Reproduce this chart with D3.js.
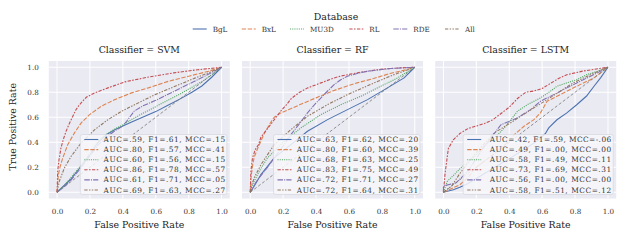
<!DOCTYPE html>
<html><head><meta charset="utf-8">
<script src="https://cdn.jsdelivr.net/npm/d3@7"></script>
<style>body{margin:0;background:#fff}svg{display:block}</style>
</head><body>
<svg id="c" width="627" height="241"></svg>
<script>
// ---------- data ----------
const databases = ["BgL", "BxL", "MU3D", "RL", "RDE", "All"];
const classifiers = ["SVM", "RF", "LSTM"];
const xTicks = [0, 0.2, 0.4, 0.6, 0.8, 1.0];
const yTicks = [0, 0.2, 0.4, 0.6, 0.8, 1.0];

// ROC curves: [fpr, tpr]
const svm_BgL = [[0,0],[0.04,0.05],[0.08,0.1],[0.13,0.18],[0.2,0.3],[0.25,0.4],[0.3,0.46],[0.35,0.5],[0.4,0.53],[0.45,0.56],[0.52,0.6],[0.6,0.645],[0.68,0.7],[0.76,0.755],[0.82,0.8],[0.88,0.85],[0.94,0.92],[1,1]];
const svm_BxL = [[0,0],[0.008,0.141],[0.02,0.21],[0.035,0.275],[0.065,0.381],[0.106,0.475],[0.147,0.555],[0.198,0.621],[0.269,0.688],[0.351,0.741],[0.453,0.795],[0.555,0.835],[0.678,0.888],[0.80,0.928],[0.92,0.968],[1,1]];
const svm_MU3D = [[0,0],[0.04,0.05],[0.08,0.11],[0.13,0.19],[0.2,0.31],[0.25,0.41],[0.3,0.465],[0.35,0.505],[0.4,0.54],[0.45,0.58],[0.52,0.63],[0.6,0.685],[0.68,0.74],[0.76,0.795],[0.82,0.84],[0.88,0.885],[0.94,0.94],[1,1]];
const svm_RL = [[0,0],[0.004,0.168],[0.012,0.26],[0.024,0.355],[0.04,0.43],[0.055,0.488],[0.075,0.55],[0.096,0.608],[0.115,0.66],[0.137,0.701],[0.16,0.735],[0.178,0.76],[0.229,0.795],[0.31,0.835],[0.412,0.883],[0.55,0.92],[0.71,0.955],[0.855,0.98],[1,1]];
const svm_RDE = [[0,0],[0.04,0.04],[0.08,0.09],[0.13,0.17],[0.2,0.29],[0.25,0.38],[0.3,0.44],[0.35,0.49],[0.4,0.53],[0.43,0.58],[0.47,0.65],[0.52,0.69],[0.6,0.735],[0.7,0.8],[0.8,0.865],[0.9,0.93],[0.95,0.965],[1,1]];
const svm_All = [[0,0],[0.014,0.088],[0.045,0.195],[0.086,0.288],[0.147,0.395],[0.229,0.501],[0.31,0.581],[0.392,0.648],[0.494,0.715],[0.596,0.781],[0.718,0.848],[0.841,0.915],[0.943,0.968],[1,1]];

const rf_BgL = [[0,0],[0.02,0.04],[0.065,0.141],[0.146,0.275],[0.247,0.381],[0.348,0.488],[0.47,0.581],[0.591,0.661],[0.713,0.741],[0.834,0.835],[0.935,0.915],[1,1]];
const rf_BxL = [[0,0],[0.005,0.12],[0.015,0.22],[0.024,0.28],[0.045,0.35],[0.065,0.41],[0.085,0.47],[0.105,0.515],[0.13,0.57],[0.146,0.6],[0.186,0.635],[0.25,0.67],[0.3,0.7],[0.4,0.755],[0.5,0.81],[0.6,0.855],[0.65,0.875],[0.75,0.91],[0.85,0.95],[0.93,0.975],[1,1]];
const rf_MU3D = [[0,0],[0.01,0.05],[0.024,0.088],[0.06,0.18],[0.105,0.275],[0.206,0.408],[0.308,0.515],[0.429,0.621],[0.551,0.701],[0.672,0.768],[0.794,0.848],[0.895,0.915],[1,1]];
const rf_RL = [[0,0],[0.004,0.17],[0.014,0.275],[0.03,0.34],[0.05,0.38],[0.065,0.44],[0.1,0.5],[0.146,0.58],[0.186,0.65],[0.22,0.7],[0.25,0.75],[0.3,0.8],[0.35,0.835],[0.43,0.875],[0.5,0.91],[0.55,0.93],[0.67,0.96],[0.8,0.985],[0.91,0.995],[1,1]];
const rf_RDE = [[0,0],[0.02,0.05],[0.05,0.11],[0.1,0.19],[0.146,0.275],[0.2,0.37],[0.247,0.461],[0.3,0.55],[0.348,0.635],[0.39,0.7],[0.43,0.755],[0.47,0.81],[0.51,0.861],[0.55,0.9],[0.59,0.928],[0.65,0.95],[0.713,0.968],[0.854,0.99],[1,1]];
const rf_All = [[0,0],[0.01,0.06],[0.024,0.115],[0.065,0.221],[0.146,0.381],[0.247,0.501],[0.348,0.608],[0.47,0.701],[0.591,0.781],[0.753,0.875],[0.874,0.941],[1,1]];

const lstm_BgL = [[0,0],[0.03,0.01],[0.06,0.02],[0.1,0.04],[0.15,0.07],[0.2,0.11],[0.3,0.19],[0.4,0.27],[0.5,0.35],[0.58,0.42],[0.62,0.47],[0.64,0.515],[0.69,0.58],[0.75,0.635],[0.81,0.7],[0.87,0.77],[0.915,0.848],[0.955,0.915],[1,1]];
const lstm_BxL = [[0,0],[0.05,0.03],[0.1,0.06],[0.15,0.12],[0.2,0.2],[0.3,0.3],[0.4,0.41],[0.43,0.46],[0.49,0.528],[0.55,0.581],[0.59,0.635],[0.63,0.728],[0.69,0.768],[0.75,0.808],[0.83,0.861],[0.915,0.915],[1,1]];
const lstm_MU3D = [[0,0],[0.024,0.088],[0.065,0.14],[0.105,0.195],[0.15,0.24],[0.2,0.3],[0.25,0.37],[0.3,0.43],[0.33,0.46],[0.37,0.515],[0.41,0.58],[0.45,0.648],[0.51,0.7],[0.59,0.755],[0.65,0.808],[0.69,0.848],[0.75,0.875],[0.81,0.9],[0.87,0.94],[0.935,0.968],[1,1]];
const lstm_RL = [[0,0],[0.01,0.15],[0.03,0.35],[0.06,0.42],[0.1,0.47],[0.15,0.51],[0.2,0.53],[0.25,0.55],[0.3,0.58],[0.35,0.63],[0.4,0.68],[0.45,0.75],[0.5,0.8],[0.55,0.81],[0.6,0.83],[0.65,0.87],[0.7,0.91],[0.75,0.94],[0.85,0.97],[1,1]];
const lstm_RDE = [[0,0],[0,0.05],[0.077,0.075],[0.15,0.17],[0.25,0.37],[0.35,0.54],[0.45,0.595],[0.53,0.661],[0.59,0.728],[0.67,0.781],[0.75,0.835],[0.85,0.9],[0.935,0.955],[1,1]];
const lstm_All = [[0,0],[0.05,0.05],[0.1,0.15],[0.2,0.32],[0.31,0.475],[0.39,0.541],[0.47,0.608],[0.55,0.675],[0.63,0.741],[0.71,0.808],[0.79,0.875],[0.895,0.941],[1,1]];

const svm_labels = ["AUC=.59, F1=.61, MCC=.15","AUC=.80, F1=.57, MCC=.41","AUC=.60, F1=.56, MCC=.15","AUC=.86, F1=.78, MCC=.57","AUC=.61, F1=.71, MCC=.05","AUC=.69, F1=.63, MCC=.27"];
const rf_labels = ["AUC=.63, F1=.62, MCC=.20","AUC=.80, F1=.60, MCC=.39","AUC=.68, F1=.63, MCC=.25","AUC=.83, F1=.75, MCC=.49","AUC=.72, F1=.71, MCC=.27","AUC=.72, F1=.64, MCC=.31"];
const lstm_labels = ["AUC=.42, F1=.59, MCC=-.06","AUC=.49, F1=.00, MCC=.00","AUC=.58, F1=.49, MCC=.11","AUC=.73, F1=.69, MCC=.31","AUC=.56, F1=.00, MCC=.00","AUC=.58, F1=.51, MCC=.12"];

const panels = [
  {name: "SVM", curves: [svm_BgL, svm_BxL, svm_MU3D, svm_RL, svm_RDE, svm_All], labels: svm_labels},
  {name: "RF", curves: [rf_BgL, rf_BxL, rf_MU3D, rf_RL, rf_RDE, rf_All], labels: rf_labels},
  {name: "LSTM", curves: [lstm_BgL, lstm_BxL, lstm_MU3D, lstm_RL, lstm_RDE, lstm_All], labels: lstm_labels}
];

// ---------- style ----------
const colors = ["#4c72b0", "#dd8452", "#55a868", "#c44e52", "#8172b3", "#937860"];
const dashes = ["", "4.4,1.6", "1.1,1.1", "3.3,1.4,1.6,1.4", "5.5,1.1,1.1,1.1", "3.3,1.4,1.4,1.4,1.4,1.4"];
const FONT = "DejaVu Serif";

const svg = d3.select("#c");
const W = 181, H = 137.5, T0 = 61;
const lefts = [48.8, 242, 435.2];

const x = d3.scaleLinear().domain([-0.05, 1.05]).range([0, W]);
const y = d3.scaleLinear().domain([-0.05, 1.05]).range([H, 0]);
const line = d3.line().x(d => x(d[0])).y(d => y(d[1]));

panels.forEach((p, i) => {
  const g = svg.append("g").attr("transform", `translate(${lefts[i]},${T0})`);
  g.append("rect").attr("width", W).attr("height", H).attr("fill", "#eaeaf2");
  g.append("g").selectAll("line").data(xTicks).join("line")
    .attr("x1", d => x(d)).attr("x2", d => x(d)).attr("y1", 0).attr("y2", H)
    .attr("stroke", "#fff").attr("stroke-width", 1);
  g.append("g").selectAll("line").data(yTicks).join("line")
    .attr("y1", d => y(d)).attr("y2", d => y(d)).attr("x1", 0).attr("x2", W)
    .attr("stroke", "#fff").attr("stroke-width", 1);
  const xa = g.append("g").attr("transform", `translate(0,${H})`)
    .call(d3.axisBottom(x).tickValues(xTicks).tickFormat(d3.format(".1f")).tickSize(0).tickPadding(10));
  xa.select(".domain").remove();
  xa.selectAll("text").attr("font-family", FONT).attr("font-size", 7.2).attr("fill", "#333");
  if (i === 0) {
    const ya = g.append("g")
      .call(d3.axisLeft(y).tickValues(yTicks).tickFormat(d3.format(".1f")).tickSize(0).tickPadding(10));
    ya.select(".domain").remove();
    ya.selectAll("text").attr("font-family", FONT).attr("font-size", 7.2).attr("fill", "#333");
  }
  const clip = "clip" + i;
  g.append("clipPath").attr("id", clip).append("rect").attr("width", W).attr("height", H);
  const cg = g.append("g").attr("clip-path", `url(#${clip})`);
  p.curves.forEach((c, k) => {
    cg.append("path").attr("d", line(c)).attr("fill", "none")
      .attr("stroke", colors[k]).attr("stroke-width", 1.1)
      .attr("stroke-dasharray", dashes[k] || null);
  });
  cg.append("path").attr("d", line([[0,0],[1,1]])).attr("fill", "none")
    .attr("stroke", "#777").attr("stroke-width", 0.8).attr("stroke-dasharray", "3,2");
  g.append("text").attr("x", W / 2).attr("y", -8).attr("text-anchor", "middle")
    .attr("font-family", FONT).attr("font-size", 9.4).attr("fill", "#222")
    .text("Classifier = " + p.name);
  g.append("text").attr("x", W / 2).attr("y", H + 29.5).attr("text-anchor", "middle")
    .attr("font-family", FONT).attr("font-size", 9.4).attr("fill", "#222")
    .text("False Positive Rate");
  const lw = (i === 2 ? 150 : 146.5), lh = 60;
  const lx = W - 3 - lw, ly = H - 4 - lh;
  const tx = (i === 2 ? 26.5 : 23.3);
  const lg = g.append("g").attr("transform", `translate(${lx},${ly})`);
  lg.append("rect").attr("width", lw).attr("height", lh).attr("rx", 2)
    .attr("fill", "#f7f7fa").attr("fill-opacity", 0.85).attr("stroke", "#d6d6de").attr("stroke-width", 0.7);
  p.labels.forEach((t, k) => {
    const yy = 5 + k * 10.1;
    lg.append("line").attr("x1", 4).attr("x2", 18).attr("y1", yy).attr("y2", yy)
      .attr("stroke", colors[k]).attr("stroke-width", 1.1).attr("stroke-dasharray", dashes[k] || null);
    lg.append("text").attr("x", tx).attr("y", yy + 2.5)
      .attr("font-family", FONT).attr("font-size", 7.4).attr("fill", "#333")
      .attr("textLength", 121.5).attr("lengthAdjust", "spacing").text(t);
  });
});

svg.append("text").attr("transform", `translate(16,${T0 + H / 2 - 3}) rotate(-90)`)
  .attr("text-anchor", "middle").attr("font-family", FONT).attr("font-size", 9.4).attr("fill", "#222")
  .text("True Positive Rate");

svg.append("text").attr("x", 336).attr("y", 20).attr("text-anchor", "middle")
  .attr("font-family", FONT).attr("font-size", 9.4).attr("fill", "#222").text("Database");
const legX = [192.7, 241.7, 290, 349.3, 393.3, 445];
databases.forEach((d, k) => {
  svg.append("line").attr("x1", legX[k]).attr("x2", legX[k] + 14).attr("y1", 29).attr("y2", 29)
    .attr("stroke", colors[k]).attr("stroke-width", 1.1).attr("stroke-dasharray", dashes[k] || null);
  svg.append("text").attr("x", legX[k] + 20).attr("y", 31.5)
    .attr("font-family", FONT).attr("font-size", 7.2).attr("fill", "#333").text(d);
});
</script>
</body></html>
